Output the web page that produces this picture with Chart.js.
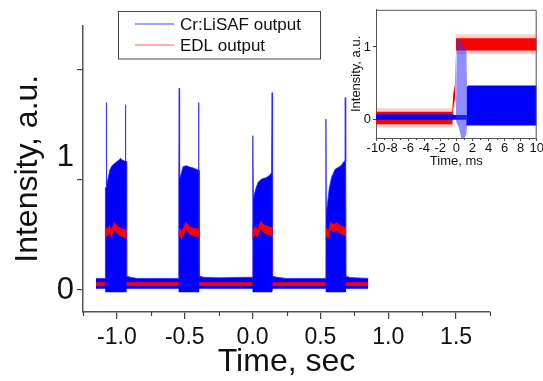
<!DOCTYPE html>
<html><head><meta charset="utf-8">
<script src="https://cdn.jsdelivr.net/npm/chart.js@4.4.1/dist/chart.umd.min.js"></script>
<style>
html,body{margin:0;padding:0;background:#fff;overflow:hidden;}
#wrap{position:relative;width:543px;height:381px;overflow:hidden;}
#main{position:absolute;left:0;top:0;}
#inset{position:absolute;left:340px;top:0;}
</style></head><body>
<div id="wrap">
<canvas id="main" width="543" height="381"></canvas>
<canvas id="inset" width="220" height="170"></canvas>
</div>
<script>
// ---------------- DATA (main panel, time in sec) ----------------
const mainBlueTime  = [-1.155,-1.086,-1.085,-1.079,-1.078,-1.076,-1.065,-1.052,-1.035,-1.015,-0.995,-0.983,-0.974,-0.96,-0.945,-0.938,-0.937,-0.935,-0.929,-0.928,-0.90,-0.85,-0.545,-0.544,-0.541,-0.538,-0.531,-0.512,-0.487,-0.462,-0.438,-0.415,-0.40,-0.398,-0.396,-0.394,-0.393,-0.36,-0.25,-0.05,-0.001,0.0,0.003,0.006,0.0096,0.024,0.041,0.066,0.103,0.125,0.14,0.144,0.146,0.1475,0.1485,0.18,0.25,0.539,0.540,0.541,0.543,0.550,0.565,0.582,0.607,0.627,0.644,0.66,0.673,0.681,0.683,0.685,0.688,0.689,0.72,0.853];
const mainBlueUpper = [0.105,0.105,0.93,0.93,1.70,0.95,1.01,1.09,1.13,1.15,1.17,1.18,1.195,1.18,1.17,1.17,1.68,1.17,1.165,0.125,0.115,0.105,0.105,1.00,1.83,1.02,1.035,1.12,1.127,1.115,1.107,1.095,1.087,1.70,1.087,1.085,0.125,0.115,0.11,0.115,0.115,0.80,1.40,0.83,0.85,0.92,0.977,1.006,1.02,1.04,1.063,1.79,1.065,1.065,0.125,0.115,0.105,0.105,0.70,1.55,0.72,0.76,0.92,1.02,1.093,1.11,1.12,1.14,1.165,1.17,1.745,1.17,1.17,0.125,0.112,0.105];
const mainBlueLower = [0.01,0.01,-0.02,-0.02,-0.02,-0.02,-0.02,-0.02,-0.02,-0.02,-0.02,-0.02,-0.02,-0.02,-0.02,-0.02,-0.02,-0.02,-0.02,0.01,0.01,0.01,0.01,-0.02,-0.02,-0.02,-0.02,-0.02,-0.02,-0.02,-0.02,-0.02,-0.02,-0.02,-0.02,-0.02,0.01,0.01,0.01,0.01,0.01,-0.02,-0.02,-0.02,-0.02,-0.02,-0.02,-0.02,-0.02,-0.02,-0.02,-0.02,-0.02,-0.02,0.01,0.01,0.01,0.01,-0.02,-0.02,-0.02,-0.02,-0.02,-0.02,-0.02,-0.02,-0.02,-0.02,-0.02,-0.02,-0.02,-0.02,-0.02,0.01,0.01,0.01];

const mainRedTime  = [-1.155,-1.085,-1.084,-1.077,-1.065,-1.054,-1.04,-1.02,-0.99,-0.965,-0.94,-0.929,-0.928,-0.545,-0.544,-0.536,-0.524,-0.492,-0.462,-0.43,-0.401,-0.394,-0.393,-0.001,0.0,0.005,0.024,0.034,0.059,0.091,0.14,0.1475,0.1485,0.539,0.540,0.546,0.558,0.575,0.595,0.619,0.644,0.681,0.688,0.689,0.853];
const mainRedUpper = [0.07,0.07,0.53,0.56,0.57,0.59,0.55,0.62,0.575,0.56,0.55,0.545,0.07,0.07,0.55,0.56,0.53,0.62,0.575,0.56,0.56,0.55,0.07,0.07,0.54,0.555,0.58,0.55,0.625,0.59,0.57,0.56,0.07,0.07,0.56,0.57,0.54,0.625,0.595,0.615,0.59,0.57,0.56,0.07,0.07];
const mainRedLower = [0.035,0.035,0.45,0.485,0.495,0.515,0.47,0.545,0.5,0.485,0.47,0.465,0.035,0.035,0.475,0.485,0.455,0.545,0.5,0.485,0.48,0.475,0.035,0.035,0.45,0.475,0.5,0.47,0.55,0.51,0.49,0.485,0.035,0.035,0.465,0.49,0.46,0.55,0.52,0.54,0.51,0.49,0.485,0.035,0.035];

const mainXMajorTicks = [-1.0,-0.5,0.0,0.5,1.0,1.5];
const mainXMinorTicks = [-1.25,-0.75,-0.25,0.25,0.75,1.25,1.75];
const mainYTicks = [0,1,2];
const legendLabels = ['Cr:LiSAF output','EDL output'];

// ---------------- DATA (inset, time in ms) ----------------
const insBlueTime  = [-10,-0.35,-0.34,1.25,1.3,1.45,10];
const insBlueUpper = [0.075,0.075,0.065,0.065,0.45,0.47,0.47];
const insBlueLower = [0.0,0.0,0.0,0.0,-0.08,-0.08,-0.08];
const insOscTime   = [-0.05,0.05,0.3,0.6,1.0,1.25,1.35];
const insOscUpper  = [0.1,1.1,1.1,1.05,1.0,0.95,0.3];
const insOscLower  = [0.0,-0.05,-0.1,-0.25,-0.25,-0.2,-0.05];
const insRedTime   = [-10,-0.5,-0.4,-0.15,-0.05,10];
const insRedUpper  = [0.11,0.11,0.35,0.5,1.12,1.12];
const insRedLower  = [-0.06,-0.06,0.15,0.3,0.95,0.95];
const insHaloTime  = [-10,-0.5,-0.1,-0.05,10];
const insHaloUpper = [0.16,0.16,0.55,1.17,1.17];
const insHaloLower = [-0.11,-0.11,0.25,0.9,0.9];
const insXMajorTicks = [-10,-8,-6,-4,-2,0,2,4,6,8,10];
const insXMinorTicks = [-9,-7,-5,-3,-1,1,3,5,7,9];
const insYTicks = [0,1];

// ---------------- helpers ----------------
const FONT = "'Liberation Sans', Arial, Helvetica, sans-serif";
Chart.defaults.font.family = FONT;
Chart.defaults.color = '#111';
const pts = (t, v) => t.map((x, i) => ({x: x, y: v[i]}));
const band = (t, v, color, fill, bw, bc) => ({
  data: pts(t, v), parsing: false, pointRadius: 0, tension: 0,
  borderWidth: bw || 0, borderColor: bc || color, backgroundColor: color, fill: fill
});

const minorTicks = {
  id: 'minorTicks',
  afterDraw(chart, args, o) {
    const ctx = chart.ctx, sx = chart.scales.x, b = chart.chartArea.bottom;
    ctx.save(); ctx.strokeStyle = o.color; ctx.lineWidth = o.width;
    o.values.forEach(v => {
      const px = Math.round(sx.getPixelForValue(v)) + 0.5;
      ctx.beginPath(); ctx.moveTo(px, b); ctx.lineTo(px, b + o.len); ctx.stroke();
    });
    ctx.restore();
  }
};

const legendBox = {
  id: 'legendBox',
  afterDraw(chart) {
    const ctx = chart.ctx;
    ctx.save();
    ctx.strokeStyle = '#444'; ctx.lineWidth = 1;
    ctx.strokeRect(118.5, 11.5, 202, 47.5);
    const rows = [{y: 24, c: 'rgba(90,90,255,0.75)'}, {y: 45, c: 'rgba(255,110,110,0.75)'}];
    ctx.font = '17px ' + FONT; ctx.textBaseline = 'middle'; ctx.fillStyle = '#111';
    rows.forEach((r, i) => {
      ctx.strokeStyle = r.c; ctx.lineWidth = 1.5;
      ctx.beginPath(); ctx.moveTo(135, r.y); ctx.lineTo(174, r.y); ctx.stroke();
      ctx.fillText(legendLabels[i], 180, r.y + 1);
    });
    ctx.restore();
  }
};

const frameTR = {
  id: 'frameTR',
  afterDraw(chart) {
    const {ctx, chartArea: a} = chart;
    ctx.save(); ctx.strokeStyle = '#555'; ctx.lineWidth = 1;
    ctx.beginPath(); ctx.moveTo(a.left, a.top + 0.5); ctx.lineTo(a.right - 0.5, a.top + 0.5); ctx.lineTo(a.right - 0.5, a.bottom); ctx.stroke();
    ctx.restore();
  }
};

// ---------------- main chart ----------------
new Chart(document.getElementById('main'), {
  type: 'line',
  data: { datasets: [
    band(mainRedTime, mainRedUpper, '#ff0000', '+1', 0),
    band(mainRedTime, mainRedLower, '#ff0000', false, 0),
    band(mainBlueTime, mainBlueUpper, '#0000ff', '+1', 1, 'rgba(40,40,255,0.8)'),
    band(mainBlueTime, mainBlueLower, '#0000ff', false, 0)
  ]},
  options: {
    responsive: false, animation: false, events: [],
    layout: { padding: { top: 13, right: 53, left: 0, bottom: 0 } },
    plugins: { legend: { display: false }, tooltip: { enabled: false },
      minorTicks: { values: mainXMinorTicks, len: 4, color: '#444', width: 1.2 } },
    scales: {
      x: {
        type: 'linear', min: -1.25, max: 1.75,
        afterBuildTicks: s => { s.ticks = mainXMajorTicks.map(v => ({value: v})); },
        afterFit: s => { s.height = 69; },
        ticks: { autoSkip: false, maxRotation: 0, padding: 5, color: '#111',
          font: { size: 23 }, callback: v => Number(v).toFixed(1) },
        grid: { drawOnChartArea: false, drawTicks: true, tickLength: 7, color: '#444', lineWidth: 1.2 },
        border: { display: true, color: '#555', width: 1.5 },
        title: { display: true, text: 'Time, sec', font: { size: 32 }, color: '#111', padding: { top: 0, bottom: 0 } }
      },
      y: {
        type: 'linear', min: -0.2, max: 2.4,
        afterBuildTicks: s => { s.ticks = mainYTicks.map(v => ({value: v})); },
        afterFit: s => { s.width = 83; },
        ticks: { autoSkip: false, padding: 3, color: '#111', font: { size: 31, lineHeight: 1.45 },
          callback: v => (v === 2 ? '' : (v === 1 ? ['1', ''] : String(v))) },
        grid: { drawOnChartArea: false, drawTicks: true, tickLength: 6, color: '#444', lineWidth: 1.2 },
        border: { display: true, color: '#555', width: 1.5 },
        title: { display: true, text: 'Intensity, a.u.', font: { size: 32 }, color: '#111', padding: { top: 9, bottom: 0 } }
      }
    }
  },
  plugins: [minorTicks, legendBox]
});

// ---------------- inset chart ----------------
new Chart(document.getElementById('inset'), {
  type: 'line',
  data: { datasets: [
    band(insOscTime, insOscUpper, 'rgba(50,50,255,0.55)', '+1', 0),
    band(insOscTime, insOscLower, 'rgba(50,50,255,0.55)', false, 0),
    band(insBlueTime, insBlueUpper, '#0000ff', '+1', 0),
    band(insBlueTime, insBlueLower, '#0000ff', false, 0),
    band(insRedTime, insRedUpper, '#ff0000', '+1', 0),
    band(insRedTime, insRedLower, '#ff0000', false, 0),
    band(insHaloTime, insHaloUpper, 'rgba(255,60,60,0.25)', '+1', 0),
    band(insHaloTime, insHaloLower, 'rgba(255,60,60,0.25)', false, 0)
  ]},
  options: {
    responsive: false, animation: false, events: [],
    layout: { padding: { top: 6, right: 23.3, left: 0, bottom: 0 } },
    plugins: { legend: { display: false }, tooltip: { enabled: false },
      minorTicks: { values: insXMinorTicks, len: 2, color: '#444', width: 1 } },
    scales: {
      x: {
        type: 'linear', min: -10, max: 10,
        afterBuildTicks: s => { s.ticks = insXMajorTicks.map(v => ({value: v})); },
        afterFit: s => { s.height = 32; },
        ticks: { autoSkip: false, maxRotation: 0, padding: 0, color: '#111', font: { size: 13 },
          callback: v => String(v) },
        grid: { drawOnChartArea: false, drawTicks: true, tickLength: 3, color: '#444', lineWidth: 1 },
        border: { display: true, color: '#555', width: 1 },
        title: { display: true, text: 'Time, ms', font: { size: 13 }, color: '#111', padding: { top: 0, bottom: 1 } }
      },
      y: {
        type: 'linear', min: -0.25, max: 1.51,
        afterBuildTicks: s => { s.ticks = insYTicks.map(v => ({value: v})); },
        afterFit: s => { s.width = 36; },
        ticks: { autoSkip: false, padding: 2, color: '#111', font: { size: 13 }, callback: v => String(v) },
        grid: { drawOnChartArea: false, drawTicks: true, tickLength: 3, color: '#444', lineWidth: 1 },
        border: { display: true, color: '#555', width: 1 },
        title: { display: true, text: 'Intensity, a.u.', font: { size: 13 }, color: '#111', padding: { top: 9, bottom: 0 } }
      }
    }
  },
  plugins: [minorTicks, frameTR]
});
</script></body></html>
